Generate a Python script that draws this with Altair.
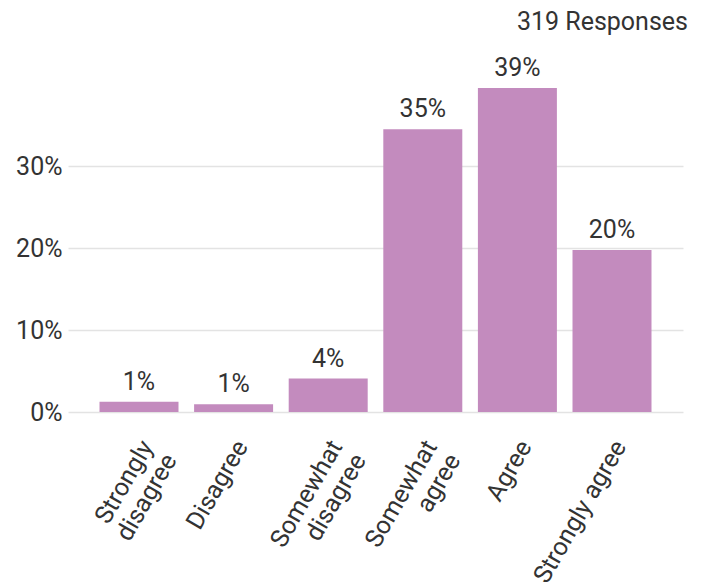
import altair as alt
import pandas as pd

categories = ["Strongly disagree", "Disagree", "Somewhat disagree", "Somewhat agree", "Agree", "Strongly agree"]
shares = [0.0125, 0.0094, 0.0408, 0.3448, 0.3950, 0.1975]
bar_labels = ["1%", "1%", "4%", "35%", "39%", "20%"]
label_lines = {
    "Strongly disagree": ["Strongly", "disagree"],
    "Disagree": ["Disagree"],
    "Somewhat disagree": ["Somewhat", "disagree"],
    "Somewhat agree": ["Somewhat", "agree"],
    "Agree": ["Agree"],
    "Strongly agree": ["Strongly agree"],
}
y_ticks = [0, 0.1, 0.2, 0.3]
title_text = "319 Responses"

df = pd.DataFrame({"category": categories, "share": shares, "label": bar_labels})

expr_parts = []
for k, v in label_lines.items():
    arr = "[" + ",".join("'" + s + "'" for s in v) + "]"
    expr_parts.append(f"datum.value == '{k}' ? {arr} : ")
label_expr = "".join(expr_parts) + "datum.value"

FONT = "Roboto"
TXT = "#333333"
FS = 25

x = alt.X(
    "category:N",
    sort=categories,
    title=None,
    scale=alt.Scale(paddingInner=0.165, paddingOuter=0.333),
    axis=alt.Axis(
        labelAngle=-60,
        labelExpr=label_expr,
        labelFontSize=FS,
        labelFont=FONT,
        labelColor=TXT,
        labelLineHeight=27,
        labelPadding=30,
        labelOffset=8,
        labelLimit=300,
        domain=False,
        ticks=False,
    ),
)
y = alt.Y(
    "share:Q",
    title=None,
    scale=alt.Scale(domain=[0, 0.45], nice=False),
    axis=alt.Axis(
        values=y_ticks,
        format=".0%",
        labelFontSize=FS,
        labelFont=FONT,
        labelColor=TXT,
        labelPadding=6,
        domain=False,
        ticks=False,
        gridColor="#e3e3e3",
        gridWidth=1.5,
    ),
)

bars = alt.Chart(df).mark_bar(color="#C38BBE").encode(x=x, y=y)
texts = alt.Chart(df).mark_text(
    baseline="bottom", dy=-7, fontSize=FS, font=FONT, color=TXT
).encode(x=x, y=y, text="label:N")

chart = (
    alt.layer(bars, texts)
    .properties(
        width=615,
        height=369,
        padding={"left": 68, "top": 43, "right": 24, "bottom": 170},
        autosize=alt.AutoSizeParams(type="none"),
        title=alt.TitleParams(
            title_text,
            anchor="end",
            frame="group",
            fontSize=FS,
            font=FONT,
            fontWeight="normal",
            color=TXT,
            offset=8,
            dx=5,
        ),
    )
    .configure_view(stroke=None)
)

chart.save("out.html", embed_options={"renderer": "svg", "actions": False})
